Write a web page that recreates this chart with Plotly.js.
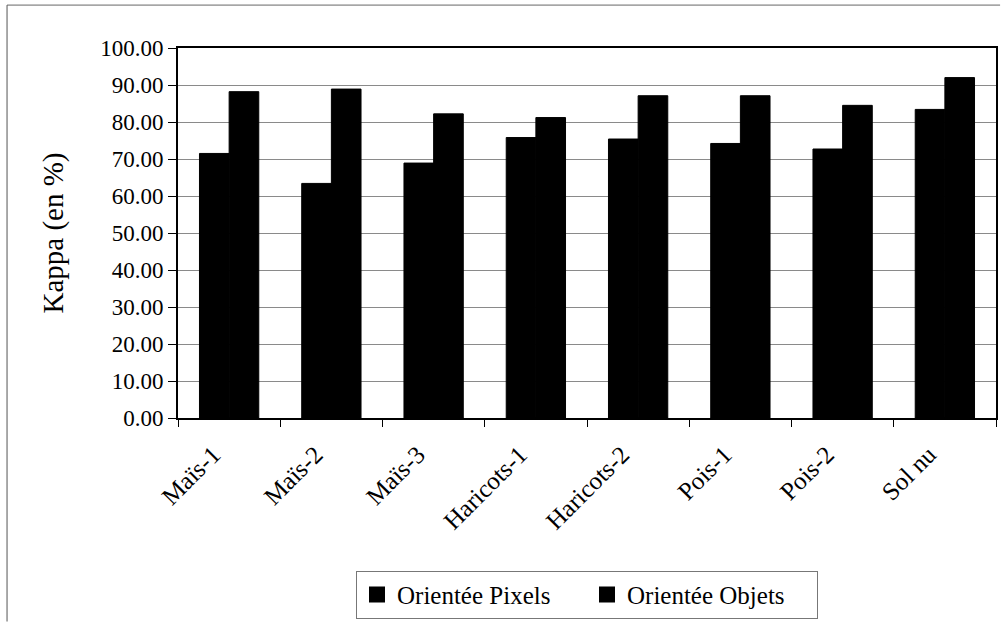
<!DOCTYPE html>
<html>
<head>
<meta charset="utf-8">
<script src="https://cdn.plot.ly/plotly-3.0.1.min.js"></script>
<style>
  html, body { margin: 0; padding: 0; background: #fff; }
  #chart { width: 1002px; height: 628px; }
</style>
</head>
<body>
<div id="chart"></div>
<script>
// Kappa per class, two classification approaches
const categories = ["Maïs-1", "Maïs-2", "Maïs-3", "Haricots-1", "Haricots-2", "Pois-1", "Pois-2", "Sol nu"];
const pixelValues = [71.5, 63.4, 68.9, 75.8, 75.4, 74.2, 72.7, 83.4];
const objectValues = [88.2, 88.9, 82.2, 81.2, 87.1, 87.1, 84.5, 92.0];
const seriesNames = ["Orientée Pixels", "Orientée Objets"];
const yTickValues = [0, 10, 20, 30, 40, 50, 60, 70, 80, 90, 100];

const serif = "Liberation Serif";
const barColor = "#000000";

const bars = [pixelValues, objectValues].map((vals, i) => ({
  type: "bar", name: seriesNames[i], x: categories, y: vals,
  showlegend: false,
  marker: { color: barColor, line: { width: 1, color: barColor } }
}));

// legend entries with larger square swatches
const legendKeys = seriesNames.map(name => ({
  type: "scatter", mode: "markers", name: name, x: [null], y: [null],
  marker: { symbol: "square", size: 16, color: barColor },
  hoverinfo: "skip"
}));

const layout = {
  width: 1002,
  height: 628,
  margin: { l: 178, r: 6, t: 48, b: 210 },
  paper_bgcolor: "#ffffff",
  plot_bgcolor: "#ffffff",
  barmode: "group",
  bargap: 0.42,
  bargroupgap: 0,
  font: { family: serif, color: "#000000" },
  xaxis: {
    type: "category",
    tickangle: -45,
    tickson: "boundaries",
    ticks: "outside",
    ticklen: 7,
    tickcolor: "#000000",
    ticklabelshift: -16,
    ticklabelstandoff: 10,
    tickfont: { family: serif, size: 25, color: "#000000" },
    showline: true,
    linecolor: "#000000",
    linewidth: 2,
    mirror: true,
    showgrid: false,
    zeroline: false
  },
  yaxis: {
    range: [0, 100],
    tickvals: yTickValues,
    tickformat: ".2f",
    ticks: "outside",
    ticklen: 8,
    tickcolor: "#000000",
    tickfont: { family: serif, size: 23, color: "#000000" },
    showline: true,
    linecolor: "#000000",
    linewidth: 2,
    mirror: true,
    showgrid: true,
    gridcolor: "#8a8a8a",
    gridwidth: 1,
    zeroline: false,
    title: { text: "Kappa (en %)", font: { family: serif, size: 29, color: "#000000" }, standoff: 28 }
  },
  showlegend: true,
  legend: {
    orientation: "h",
    x: 0.5,
    xanchor: "center",
    y: -0.413,
    yanchor: "top",
    bordercolor: "#777777",
    borderwidth: 1,
    bgcolor: "#ffffff",
    font: { family: serif, size: 25, color: "#000000" },
    itemsizing: "trace",
    itemwidth: 30,
    entrywidth: 185,
    traceorder: "normal"
  },
  shapes: [
    // outer frame: top and left edges
    { type: "line", xref: "paper", yref: "paper", x0: -0.209, x1: 1.005, y0: 1.116, y1: 1.116,
      line: { color: "#666666", width: 1 } },
    { type: "line", xref: "paper", yref: "paper", x0: -0.209, x1: -0.209, y0: 1.116, y1: -0.55,
      line: { color: "#555555", width: 1 } }
  ]
};

Plotly.newPlot("chart", bars.concat(legendKeys), layout, { displayModeBar: false, staticPlot: true });
</script>
</body>
</html>
